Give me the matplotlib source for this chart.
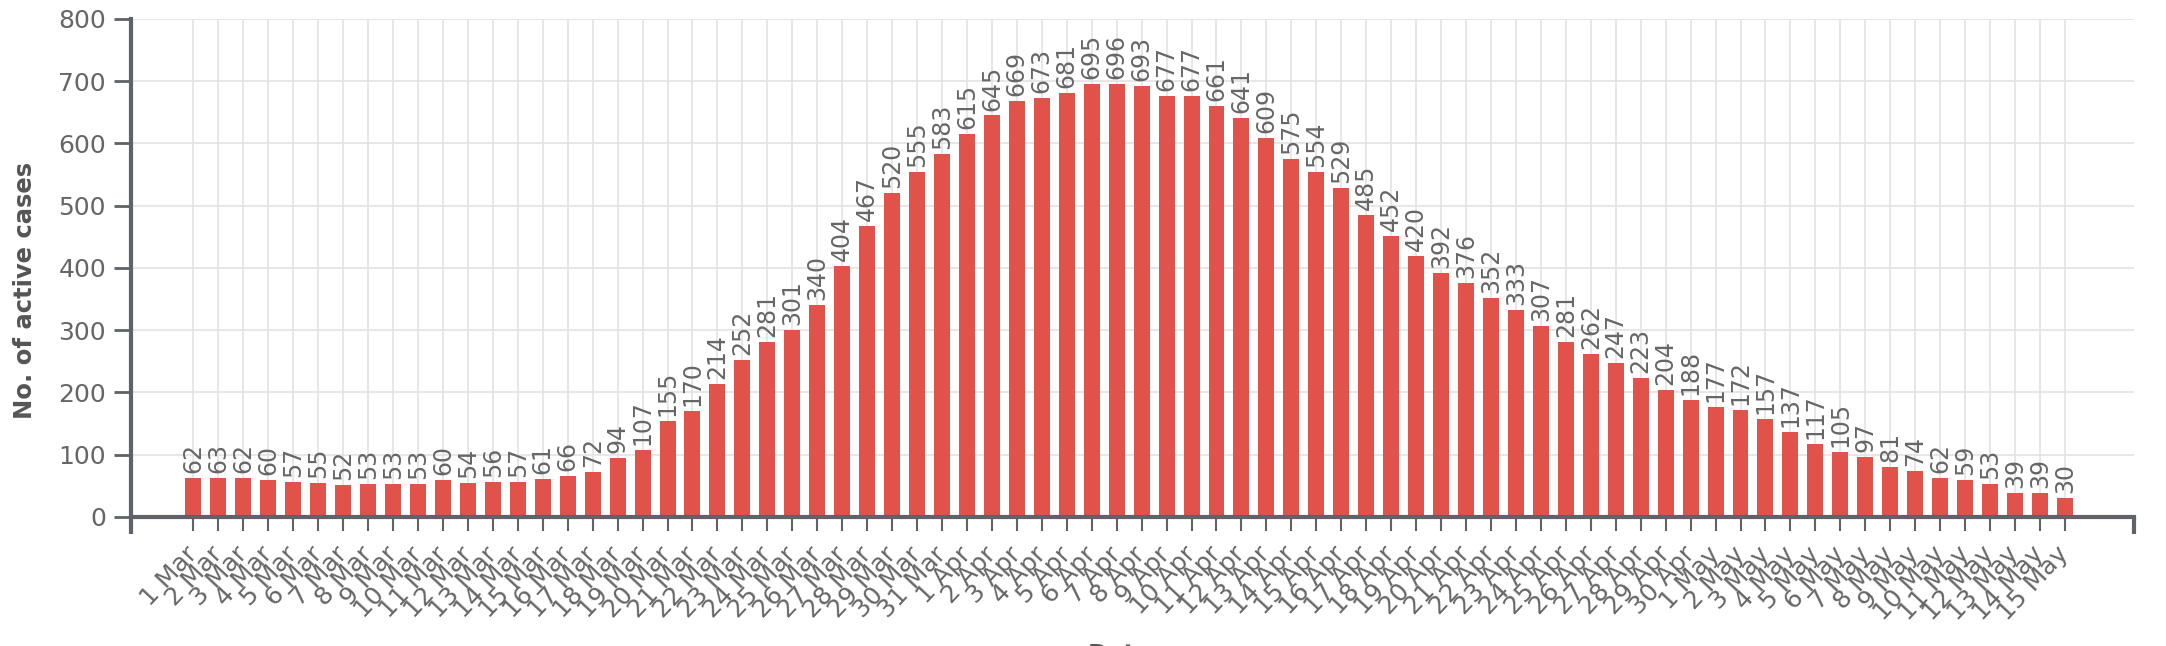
import numpy as np
from matplotlib import pyplot as plt

# active cases per day, 1 Mar .. 15 May
dates = ([f"{d} Mar" for d in range(1, 32)]
         + [f"{d} Apr" for d in range(1, 31)]
         + [f"{d} May" for d in range(1, 16)])
active = [
    62, 63, 62, 60, 57, 55, 52, 53, 53, 53, 60, 54, 56, 57, 61, 66, 72, 94, 107,
    155, 170, 214, 252, 281, 301, 340, 404, 467, 520, 555, 583, 615, 645, 669,
    673, 681, 695, 696, 693, 677, 677, 661, 641, 609, 575, 554, 529, 485, 452,
    420, 392, 376, 352, 333, 307, 281, 262, 247, 223, 204, 188, 177, 172, 157,
    137, 117, 105, 97, 81, 74, 62, 59, 53, 39, 39, 30,
]
y_ticks = [0, 100, 200, 300, 400, 500, 600, 700, 800]

BAR = "#e0524a"
AXIS = "#5f6266"
TEXT = "#666666"
GRID = "#e3e3e3"

plt.rcParams["font.family"] = ["DejaVu Sans"]

fig = plt.figure(figsize=(21.66, 6.46), dpi=100)
ax = fig.add_axes([0.0605, 0.1997, 0.9245, 0.7709])

x = np.arange(len(active))
ax.bar(x, active, width=0.64, color=BAR, zorder=2)

for xi, v in zip(x, active):
    ax.text(xi, v + 8, str(v), rotation=90, ha="center", va="bottom",
            fontsize=17, color=TEXT, zorder=3)

ax.set_xlim(-2.5, len(active) + 1.75)
ax.set_ylim(0, 800)
ax.set_yticks(y_ticks)
ax.set_yticklabels([str(t) for t in y_ticks])
ax.set_xticks(x)
ax.set_xticklabels(dates, rotation=47, ha="right", va="center",
                   rotation_mode="anchor")

ax.grid(True, color=GRID, linewidth=1.2, zorder=0)
ax.set_axisbelow(True)

for side in ("top", "right"):
    ax.spines[side].set_visible(False)
for side in ("left", "bottom"):
    ax.spines[side].set_color(AXIS)
    ax.spines[side].set_linewidth(3)

ax.tick_params(axis="y", length=12, width=2, color=AXIS, labelcolor=TEXT,
               labelsize=18, pad=6)
ax.tick_params(axis="x", length=10, width=1.5, color=AXIS, labelcolor=TEXT,
               labelsize=18, pad=14)
# outer end ticks of the x axis, d3 style
ax.set_xticks([-2.5, len(active) + 1.75], minor=True)
ax.tick_params(axis="x", which="minor", length=12, width=3, color=AXIS)

ax.set_ylabel("No. of active cases", fontsize=17.5, fontweight="bold",
              color="#555555")
ax.yaxis.set_label_coords(-0.047, 0.455)
ax.set_xlabel("Date", fontsize=17.5, fontweight="bold", color="#555555")
ax.xaxis.set_label_coords(0.494, -0.254)

fig.savefig("out.png", dpi=100)
